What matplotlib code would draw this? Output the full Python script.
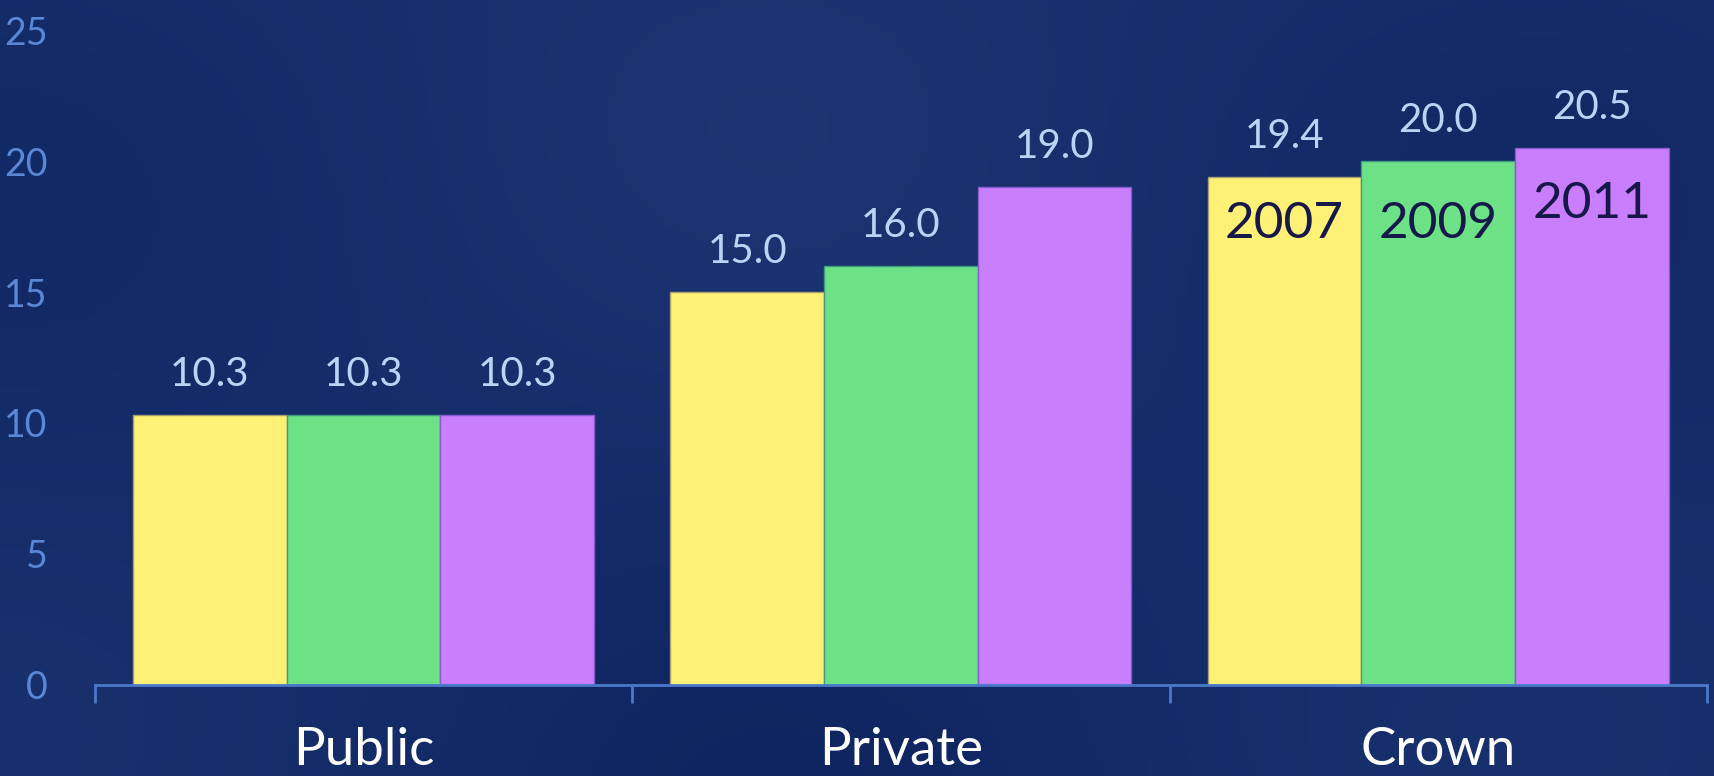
import matplotlib
matplotlib.use('Agg')
from matplotlib import pyplot as plt
from matplotlib import transforms
import numpy as np

categories = ['Public', 'Private', 'Crown']
years = ['2007', '2009', '2011']
v2007 = [10.3, 15.0, 19.4]
v2009 = [10.3, 16.0, 20.0]
v2011 = [10.3, 19.0, 20.5]
yticks = [0, 5, 10, 15, 20, 25]

colors = ['#fff176', '#6de185', '#c97efd']
edges = ['#a8a070', '#3f9a80', '#8a5ad0']

plt.rcParams['font.family'] = ['Lato', 'DejaVu Sans']

fig = plt.figure(figsize=(17.14, 7.76), dpi=100)

# background gradient
bg = fig.add_axes([0, 0, 1, 1], zorder=-10)
xx, yy = np.meshgrid(np.linspace(0, 1, 300), np.linspace(0, 1, 150))
shade = 0.55 + 0.25 * np.cos(xx * 7.0) * np.cos(yy * 4.0) + 0.2 * yy
c1 = np.array([0x0a, 0x1f, 0x5a]) / 255.
c2 = np.array([0x1b, 0x35, 0x72]) / 255.
img = c1[None, None, :] + (c2 - c1)[None, None, :] * shade[:, :, None].clip(0, 1)
bg.imshow(img, aspect='auto', extent=[0, 1, 0, 1], origin='lower')
bg.axis('off')

ax = fig.add_axes([0.0554, 0.1173, 0.9405, 0.844])
ax.patch.set_alpha(0)

x = np.arange(len(categories))
w = 0.286
series = [v2007, v2009, v2011]
for i, vals in enumerate(series):
    bars = ax.bar(x + (i - 1) * w, vals, w, color=colors[i], edgecolor=edges[i], linewidth=1, zorder=3)
    for b, v in zip(bars, vals):
        ax.annotate('%.1f' % v, (b.get_x() + b.get_width() / 2, v), xytext=(0, 29),
                    textcoords='offset points', ha='center', va='center',
                    fontsize=29, color='#b9d5f6')

# year labels inside Crown bars
year_y = [17.6, 17.6, 18.35]
for i in range(3):
    ax.text(x[2] + (i - 1) * w, year_y[i], years[i], ha='center', va='center',
            fontsize=37, color='#17184a', zorder=4)

ax.set_xlim(-0.5, 2.5)
ax.set_ylim(0, 25)
ax.set_yticks(yticks)
ax.set_yticklabels([str(t) for t in yticks])
ax.tick_params(axis='y', length=0, pad=34, labelsize=27, labelcolor='#5a86d6')

ax.set_xticks([-0.5, 0.5, 1.5, 2.5])
ax.set_xticklabels([])
ax.tick_params(axis='x', length=13, width=2, color='#4a78c8', direction='out')

for s in ['top', 'right', 'left']:
    ax.spines[s].set_visible(False)
ax.spines['bottom'].set_color('#4a78c8')
ax.spines['bottom'].set_linewidth(2)
ax.spines['bottom'].set_zorder(5)

# category names sit low near the bottom edge
trans = transforms.blended_transform_factory(ax.transData, fig.transFigure)
for i, c in enumerate(categories):
    ax.text(x[i], 2 / 776., c, transform=trans, ha='center', va='bottom',
            fontsize=38, color='white', clip_on=False)

fig.savefig('out.png', dpi=100)
